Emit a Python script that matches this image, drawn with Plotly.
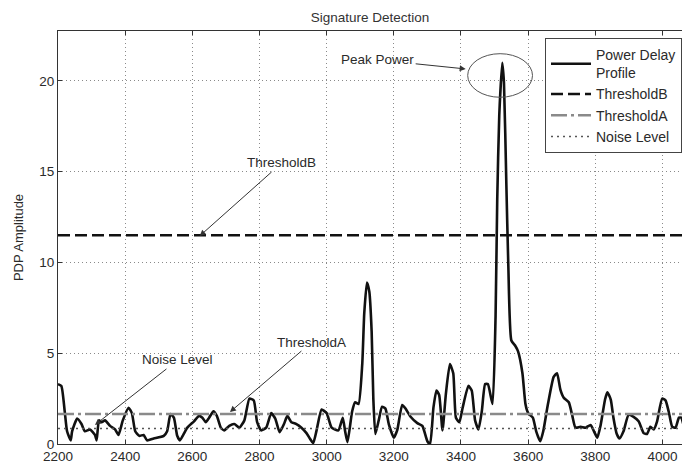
import plotly.graph_objects as go

# Power delay profile samples
pdp_x = [2200, 2210, 2220, 2227, 2238, 2242, 2257, 2270, 2280, 2295, 2310, 2315, 2322, 2330, 2340,
         2355, 2370, 2380, 2393, 2410, 2420, 2430, 2442, 2455, 2465, 2485, 2515, 2525, 2535, 2545,
         2555, 2563, 2573, 2585, 2605, 2620, 2630, 2640, 2650, 2663, 2673, 2685, 2695, 2710, 2725,
         2740, 2755, 2770, 2783, 2793, 2805, 2820, 2835, 2847, 2860, 2873, 2883, 2895, 2910, 2925,
         2940, 2950, 2960, 2970, 2985, 3000, 3015, 3035, 3048, 3055, 3062, 3076, 3085, 3095, 3106,
         3112, 3120, 3127, 3134, 3139, 3145, 3155, 3165, 3175, 3185, 3200, 3210, 3225, 3235, 3250,
         3270, 3285, 3300, 3308, 3318, 3327, 3335, 3345, 3355, 3367, 3377, 3385, 3395, 3405, 3422,
         3432, 3442, 3452, 3462, 3472, 3480, 3494, 3503, 3508, 3514, 3523, 3528, 3535, 3541, 3550,
         3562, 3570, 3583, 3592, 3600, 3614, 3624, 3636, 3645, 3659, 3676, 3686, 3696, 3706, 3721,
         3731, 3741, 3756, 3771, 3786, 3796, 3806, 3816, 3829, 3836, 3846, 3854, 3864, 3872, 3884,
         3899, 3914, 3929, 3944, 3954, 3964, 3974, 3984, 3999, 4009, 4019, 4029, 4039, 4049, 4056,
         4064, 4074, 4079, 4084]
pdp_y = [3.3, 3.2, 1.8, 0.7, 0.2, 0.7, 1.4, 1.1, 0.7, 0.8, 0.5, 0.2, 1.3, 1.2, 1.3,
         1.0, 0.8, 0.5, 1.3, 2.0, 1.7, 0.7, 0.45, 0.5, 0.2, 0.3, 0.45, 0.7, 1.65, 1.45,
         0.45, 0.2, 0.5, 0.9, 1.25, 1.55, 1.45, 1.2, 1.45, 1.8, 1.55, 0.9, 0.75, 1.0, 1.1,
         0.9, 1.3, 2.5, 2.4, 1.2, 0.75, 0.9, 1.7, 1.4, 0.65, 1.1, 1.55, 1.2, 1.1, 0.9,
         0.6, 0.3, 0.05, 0.75, 1.9, 1.7, 0.9, 0.75, 1.45, 0.7, 0.1, 1.8, 2.3, 2.2, 4.4,
         7.2, 8.9, 8.4, 6.2, 2.5, 0.55, 1.3, 2.05, 1.95, 1.1, 0.35, 0.75, 2.15, 1.95, 1.5,
         1.15, 1.0, 0.15, 0.0, 2.0, 2.95, 2.7, 0.75, 2.75, 4.4, 3.9, 1.45, 1.2, 2.0, 3.2,
         2.95, 1.3, 0.8, 1.8, 3.3, 3.3, 2.2, 7.0, 13.5, 18.1, 21.0, 19.9, 14.4, 9.8, 5.7,
         5.4, 5.1, 3.9, 2.2, 1.7, 1.45, 0.7, 0.15, 0.7, 2.2, 3.7, 3.9, 3.0, 2.55, 2.3,
         1.6, 0.9, 0.95, 0.9, 1.05, 0.7, 0.35, 1.05, 2.45, 2.85, 2.45, 1.45, 0.55, 0.3, 0.7,
         1.6, 1.5, 1.25, 0.6, 0.55, 0.95, 0.8, 1.25, 2.5, 2.4, 1.75, 0.95, 0.9, 1.45, 1.45,
         0.95, 0.3, 0.6, 1.05]

line_x = [2200, 4100]
threshold_b = 11.5
threshold_a = 1.65
noise_level = 0.85

x_ticks = [2200, 2400, 2600, 2800, 3000, 3200, 3400, 3600, 3800, 4000]
y_ticks = [0, 5, 10, 15, 20]

font_family = "Liberation Sans, Arial, sans-serif"
txt = "#2a2a2a"

fig = go.Figure()
fig.add_trace(go.Scatter(x=pdp_x, y=pdp_y, mode="lines", name="Power Delay<br>Profile",
                         line=dict(color="#111111", width=2.6, shape="spline", smoothing=0.5)))
fig.add_trace(go.Scatter(x=line_x, y=[threshold_b] * 2, mode="lines", name="ThresholdB",
                         line=dict(color="#111111", width=2.5, dash="12px,5px")))
fig.add_trace(go.Scatter(x=line_x, y=[threshold_a] * 2, mode="lines", name="ThresholdA",
                         line=dict(color="#8a8a8a", width=2.5, dash="16px,4px,3px,4px")))
fig.add_trace(go.Scatter(x=line_x, y=[noise_level] * 2, mode="lines", name="Noise Level",
                         line=dict(color="#555555", width=1.5, dash="2px,4px")))

# ellipse around the peak
fig.add_shape(type="circle", xref="x", yref="y", x0=3420, x1=3613, y0=19.1, y1=21.5,
              line=dict(color="#555555", width=1))

ann_font = dict(family=font_family, size=13.5, color=txt)
annotations = [
    dict(text="Peak Power", x=3414, y=20.66, ax=-88, ay=-9),
    dict(text="ThresholdB", x=2622, y=11.46, ax=82, ay=-73),
    dict(text="ThresholdA", x=2712, y=1.76, ax=82, ay=-70),
    dict(text="Noise Level", x=2310, y=1.05, ax=83, ay=-65),
]
for a in annotations:
    fig.add_annotation(text=a["text"], x=a["x"], y=a["y"], ax=a["ax"], ay=a["ay"],
                       xref="x", yref="y", showarrow=True, arrowhead=2, arrowsize=1.2,
                       arrowwidth=1, arrowcolor="#333333", font=ann_font)

# the page body adds an 8px offset, so the figure is 8px smaller and shifted
W, H = 682, 457
fig.update_layout(
    width=W, height=H,
    margin=dict(l=50, r=0, t=23, b=21),
    paper_bgcolor="white", plot_bgcolor="white",
    font=dict(family=font_family, size=13, color=txt),
    title=dict(text="Signature Detection", x=362 / W, xref="container", xanchor="center",
               y=1 - 9 / H, yref="container", yanchor="middle",
               font=dict(family=font_family, size=13.5, color="#333333")),
    legend=dict(x=(537 - 50) / 632, xanchor="left", y=1 - 7 / 413, yanchor="top",
                bgcolor="white", bordercolor="#444444", borderwidth=1,
                font=dict(family=font_family, size=14, color=txt),
                tracegroupgap=0, itemwidth=40),
    showlegend=True,
)
fig.update_xaxes(range=[2200, 4082], tickvals=x_ticks, ticks="inside", ticklen=4,
                 tickcolor="#333333", showline=True, linecolor="#333333", linewidth=1,
                 mirror="ticks", showgrid=True, gridcolor="#8a8a8a", griddash="1px,3px",
                 gridwidth=1, zeroline=False, tickfont=dict(size=13.5))
fig.update_yaxes(range=[0, 22.75], tickvals=y_ticks, ticks="inside", ticklen=4,
                 tickcolor="#333333", showline=True, linecolor="#333333", linewidth=1,
                 showgrid=True, gridcolor="#8a8a8a", griddash="1px,3px", gridwidth=1,
                 zeroline=False, tickfont=dict(size=13.5),
                 title=dict(text="PDP Amplitude", standoff=12, font=dict(size=13)))

fig.write_html("out.html")
